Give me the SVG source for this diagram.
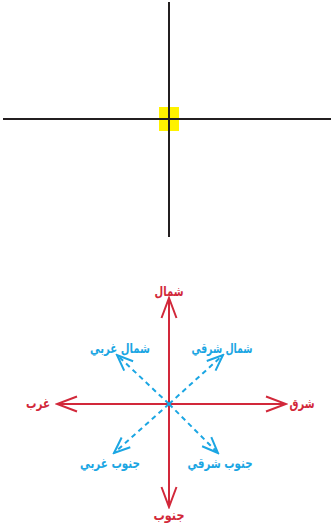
<svg xmlns="http://www.w3.org/2000/svg" width="331" height="531" viewBox="0 0 331 531">
<style>
.ax{stroke:#231f20;stroke-width:2;fill:none}
.red{stroke:#d2283a;stroke-width:2;fill:none}
.blue{stroke:#1ba6e3;stroke-width:2;fill:none;stroke-dasharray:5 4}
.tr{font-family:"DejaVu Sans",sans-serif;font-weight:bold;font-size:13.5px;fill:#d2283a;text-anchor:middle;dominant-baseline:central}
.tb{font-family:"DejaVu Sans",sans-serif;font-weight:bold;font-size:13.5px;fill:#1ba6e3;text-anchor:middle;dominant-baseline:central}
</style>
<defs>
<marker id="ar" viewBox="-24 -10 26 20" markerWidth="26" markerHeight="20" refX="0" refY="0" orient="auto" markerUnits="userSpaceOnUse">
<path d="M-20,-7.5 L0,0 L-20,7.5" fill="none" stroke="#d2283a" stroke-width="2"/>
</marker>
<marker id="ab" viewBox="-20 -9 22 18" markerWidth="22" markerHeight="18" refX="0" refY="0" orient="auto" markerUnits="userSpaceOnUse">
<path d="M-16,-6.5 L0,0 L-16,6.5" fill="none" stroke="#1ba6e3" stroke-width="2"/>
</marker>
</defs>
<g id="axes">
<rect id="origin" x="159" y="107" width="20" height="24" fill="#fff200"/>
<line class="ax" x1="3" y1="119" x2="331" y2="119"/>
<line class="ax" x1="169" y1="2" x2="169" y2="237"/>
</g>
<g id="connectors">
<line class="red" x1="169" y1="404" x2="169" y2="298" marker-end="url(#ar)"/>
<line class="red" x1="169" y1="404" x2="169" y2="507" marker-end="url(#ar)"/>
<line class="red" x1="169" y1="404" x2="286" y2="404" marker-end="url(#ar)"/>
<line class="red" x1="169" y1="404" x2="57" y2="404" marker-end="url(#ar)"/>
<line class="blue" x1="169" y1="404" x2="223" y2="355" marker-end="url(#ab)"/>
<line class="blue" x1="169" y1="404" x2="117" y2="355" marker-end="url(#ab)"/>
<line class="blue" x1="169" y1="404" x2="114" y2="453" marker-end="url(#ab)"/>
<line class="blue" x1="169" y1="404" x2="218" y2="453" marker-end="url(#ab)"/>
</g>
<g id="north"><text class="tr" x="169" y="291" textLength="29" lengthAdjust="spacingAndGlyphs">شمال</text></g>
<g id="south"><text class="tr" x="169" y="515" textLength="31" lengthAdjust="spacingAndGlyphs">جنوب</text></g>
<g id="east"><text class="tr" x="302" y="403" textLength="25" lengthAdjust="spacingAndGlyphs">شرق</text></g>
<g id="west"><text class="tr" x="38" y="403" textLength="24" lengthAdjust="spacingAndGlyphs">غرب</text></g>
<g id="northwest"><text class="tb" x="120" y="348" textLength="60" lengthAdjust="spacingAndGlyphs">شمال غربي</text></g>
<g id="northeast"><text class="tb" x="222" y="348" textLength="61" lengthAdjust="spacingAndGlyphs">شمال شرقي</text></g>
<g id="southwest"><text class="tb" x="110" y="463" textLength="60" lengthAdjust="spacingAndGlyphs">جنوب غربي</text></g>
<g id="southeast"><text class="tb" x="220" y="463" textLength="65" lengthAdjust="spacingAndGlyphs">جنوب شرقي</text></g>
</svg>
